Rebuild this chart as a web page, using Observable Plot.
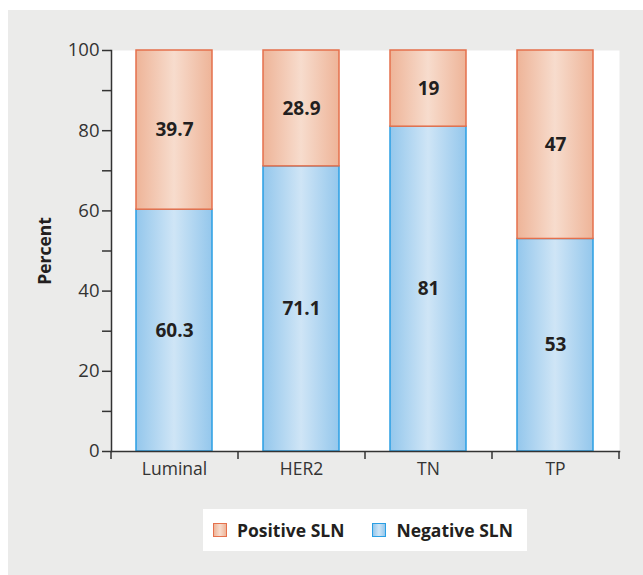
<!DOCTYPE html>
<html><head><meta charset="utf-8">
<script src="https://cdn.jsdelivr.net/npm/d3@7"></script>
<script src="https://cdn.jsdelivr.net/npm/@observablehq/plot@0.6"></script>
<style>
body{margin:0;background:#fff;font-family:"Open Sans",sans-serif}
#wrap{position:relative;width:643px;height:575px;overflow:hidden}
#panel{position:absolute;left:8px;top:10px;width:635px;height:565px;background:#ebebea}
#chart{position:absolute;left:0;top:0}
#legend{position:absolute;left:203px;top:509px;width:324px;height:42px;background:#fff;display:flex;align-items:center;font-weight:bold;font-size:17.5px;color:#231f20}
.sw{display:inline-block;width:14px;height:14px;margin-right:10px;box-sizing:border-box}
.item{display:flex;align-items:center}
</style></head>
<body>
<div id="wrap"><div id="panel"></div><div id="chart"></div><div id="legend"></div></div>
<script>
const categories = ["Luminal", "HER2", "TN", "TP"];
const negativeSLN = [60.3, 71.1, 81, 53];
const positiveSLN = [39.7, 28.9, 19, 47];
const yTicks = [0, 20, 40, 60, 80, 100];
const yMinorTicks = [10, 30, 50, 70, 90];
const seriesNames = ["Positive SLN", "Negative SLN"];

const neg = categories.map((c, i) => ({cat: c, y1: 0, y2: negativeSLN[i], v: negativeSLN[i]}));
const pos = categories.map((c, i) => ({cat: c, y1: negativeSLN[i], y2: negativeSLN[i] + positiveSLN[i], v: positiveSLN[i]}));

const W = 643, H = 500, mL = 111, mR = 24, mT = 50, mB = 49;
const step = (W - mL - mR) / categories.length;
const axisColor = "#333";
const txt = {fontWeight: "bold", fontSize: 19, fill: "#231f20"};

const chart = Plot.plot({
  width: W, height: H, marginLeft: mL, marginRight: mR, marginTop: mT, marginBottom: mB,
  style: {fontFamily: "Open Sans", background: "transparent", overflow: "visible", color: "#333"},
  x: {domain: categories, paddingInner: 0.4, paddingOuter: 0.2},
  y: {domain: [0, 100]},
  marks: [
    Plot.frame({fill: "white", stroke: null}),
    Plot.barY(neg, {x: "cat", y1: "y1", y2: "y2", fill: "url(#gNeg)", stroke: "#2a9fe4", strokeWidth: 1.5}),
    Plot.barY(pos, {x: "cat", y1: "y1", y2: "y2", fill: "url(#gPos)", stroke: "#e5704c", strokeWidth: 1.5}),
    Plot.text(neg, {x: "cat", y: d => (d.y1 + d.y2) / 2, text: d => String(d.v), ...txt}),
    Plot.text(pos, {x: "cat", y: d => (d.y1 + d.y2) / 2, text: d => String(d.v), ...txt}),
    Plot.axisY({ticks: yTicks, tickSize: 9, tickPadding: 3, fontSize: 18.5, stroke: axisColor, strokeWidth: 1.5, label: null}),
    Plot.axisY({ticks: yMinorTicks, tickSize: 9, tickFormat: () => "", stroke: axisColor, strokeWidth: 1.5, label: null}),
    Plot.frame({anchor: "left", stroke: axisColor, strokeWidth: 1.5}),
    Plot.frame({anchor: "bottom", stroke: axisColor, strokeWidth: 1.5}),
    Plot.axisX({tickSize: 0, tickPadding: 11, fontSize: 17.5, label: null}),
    Plot.ruleX(categories, {x: d => d, y1: 0, y2: 0, dx: -step / 2, insetBottom: -8, stroke: axisColor, strokeWidth: 1.5}),
    Plot.ruleX(categories.slice(-1), {x: d => d, y1: 0, y2: 0, dx: step / 2, insetBottom: -8, stroke: axisColor, strokeWidth: 1.5}),
    Plot.text(["Percent"], {frameAnchor: "left", textAnchor: "middle", rotate: -90, dx: -66, fontWeight: "bold", fontSize: 17.5, fill: "#231f20"})
  ]
});

const defs = d3.select(chart).insert("defs", ":first-child");
function grad(id, edge, mid) {
  const g = defs.append("linearGradient").attr("id", id).attr("x1", 0).attr("x2", 1).attr("y1", 0).attr("y2", 0);
  g.append("stop").attr("offset", "0%").attr("stop-color", edge);
  g.append("stop").attr("offset", "50%").attr("stop-color", mid);
  g.append("stop").attr("offset", "100%").attr("stop-color", edge);
}
grad("gPos", "#eeb498", "#f7dccd");
grad("gNeg", "#94c7ec", "#cfe5f6");
document.getElementById("chart").appendChild(chart);

const legend = document.getElementById("legend");
const swatches = [
  {name: seriesNames[0], stroke: "#e5704c", fill: "linear-gradient(to right,#eeb498,#f7dccd,#eeb498)"},
  {name: seriesNames[1], stroke: "#2a9fe4", fill: "linear-gradient(to right,#94c7ec,#cfe5f6,#94c7ec)"}
];
swatches.forEach((s, i) => {
  const it = document.createElement("div");
  it.className = "item";
  it.style.marginLeft = i === 0 ? "10px" : "28px";
  const sw = document.createElement("span");
  sw.className = "sw";
  sw.style.border = "1.5px solid " + s.stroke;
  sw.style.background = s.fill;
  it.appendChild(sw);
  const t = document.createElement("span");
  t.textContent = s.name;
  it.appendChild(t);
  legend.appendChild(it);
});
</script>
</body></html>
